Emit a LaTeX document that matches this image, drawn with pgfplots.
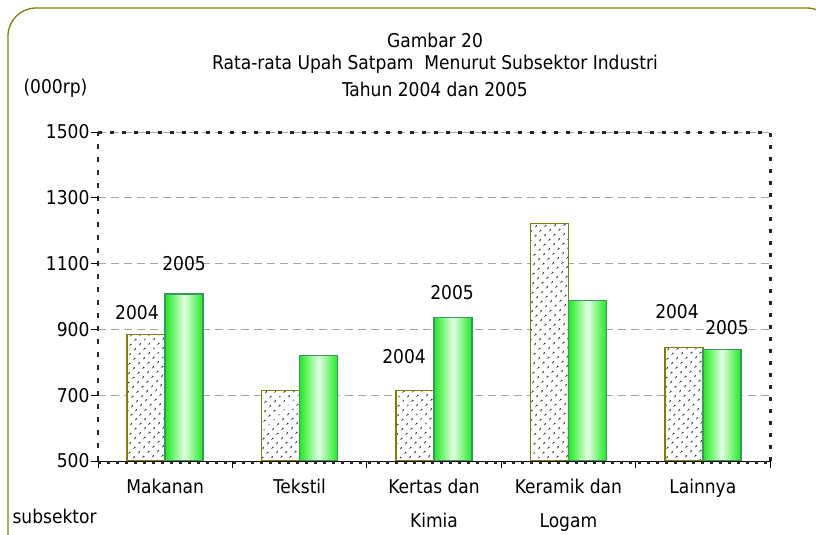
\documentclass[border=0pt]{standalone}
\usepackage{fontspec}
\setmainfont{DejaVu Sans Condensed}
\usepackage{pgfplots}
\pgfplotsset{compat=1.18}
\usetikzlibrary{patterns.meta}
\definecolor{olivebd}{RGB}{128,128,0}
\definecolor{greenedge}{RGB}{30,235,30}
\definecolor{greenmid}{RGB}{228,255,228}
\definecolor{greenbd}{RGB}{60,150,100}
\definecolor{gridgray}{RGB}{165,165,165}

\pgfplotsset{
  y2004/.style={draw=olivebd, line width=1.5pt, fill=white, bar shift=-19pt,
    postaction={pattern={Dots[angle=45, distance=6.5pt, radius=1.1pt]}, pattern color=black!90}},
  y2005/.style={draw=greenbd, line width=1.5pt, bar shift=19pt,
    left color=greenedge, right color=greenedge, middle color=greenmid},
}

\begin{document}
\begin{tikzpicture}[x=1pt,y=1pt]
\fontsize{19}{22}\selectfont
\begin{axis}[
    at={(98pt,-461pt)}, anchor=south west,
    scale only axis, width=672pt, height=329pt,
    clip=false,
    xmin=0, xmax=5, ymin=500, ymax=1500,
    ytick={500,700,...,1500},
    xtick={0,1,2,3,4,5}, xticklabels={,,,,,},
    extra x ticks={0.5,1.5,2.5,3.5,4.5},
    extra x tick labels={Makanan, Tekstil, {Kertas dan\\Kimia}, {Keramik dan\\Logam}, Lainnya},
    extra x tick style={major tick length=0pt},
    xticklabel style={align=center, font=\fontsize{19}{34}\selectfont, yshift=-12pt},
    yticklabel style={font=\fontsize{19}{22}\selectfont, xshift=5pt},
    /pgf/number format/assume math mode=true,
    /pgf/number format/1000 sep={},
    xtick pos=bottom, ytick pos=left,
    tick align=outside, major tick length=7pt,
    tick style={black, line width=0.8pt},
    axis line style={draw=none},
    ymajorgrids, grid style={gridgray, line width=1pt, dash pattern=on 8pt off 5pt},
    ybar, bar width=38pt,
]
% 2004
\addplot[y2004] coordinates {(0.5,884)};
\addplot[y2004] coordinates {(1.5,714)};
\addplot[y2004] coordinates {(2.5,714)};
\addplot[y2004] coordinates {(3.5,1222)};
\addplot[y2004] coordinates {(4.5,845)};
% 2005
\addplot[y2005] coordinates {(0.5,1008)};
\addplot[y2005] coordinates {(1.5,821)};
\addplot[y2005] coordinates {(2.5,936)};
\addplot[y2005] coordinates {(3.5,988)};
\addplot[y2005] coordinates {(4.5,839)};

\node at (axis cs:0.29,951) {2004};
\node at (axis cs:0.64,1100) {2005};
\node at (axis cs:2.277,818) {2004};
\node at (axis cs:2.634,1012) {2005};
\node at (axis cs:4.308,954) {2004};
\node at (axis cs:4.68,906) {2005};

% frame
\draw[black!85, line width=3pt, dash pattern=on 4pt off 8pt] (rel axis cs:0,1) -- (rel axis cs:1,1);
\draw[black!85, line width=3pt, dash pattern=on 4pt off 8pt] (rel axis cs:1,0) -- (rel axis cs:1,1);
\draw[black!85, line width=2.5pt, dash pattern=on 5pt off 8pt] (rel axis cs:0,0) -- (rel axis cs:0,1);
\draw[black, line width=1pt] (rel axis cs:0,0) -- (rel axis cs:1,0);
\draw[black!85, line width=2.5pt, dash pattern=on 3pt off 6pt, yshift=-1.5pt] (rel axis cs:0,0) -- (rel axis cs:1,0);
\end{axis}

\node at (435,-40) {Gambar 20};
\node at (435,-64) {Rata-rata Upah Satpam \ Menurut Subsektor Industri};
\node at (435,-89) {Tahun 2004 dan 2005};
\node[anchor=west] at (17,-88) {(000rp)};
\node[anchor=west] at (6,-516) {subsektor};

\draw[olivebd, line width=1.3pt, rounded corners=28pt] (8,-570) -- (8,-8) -- (835,-8) -- (835,-570);

\pgfresetboundingbox
\path[use as bounding box] (0,0) rectangle (816,-535);
\end{tikzpicture}
\end{document}
